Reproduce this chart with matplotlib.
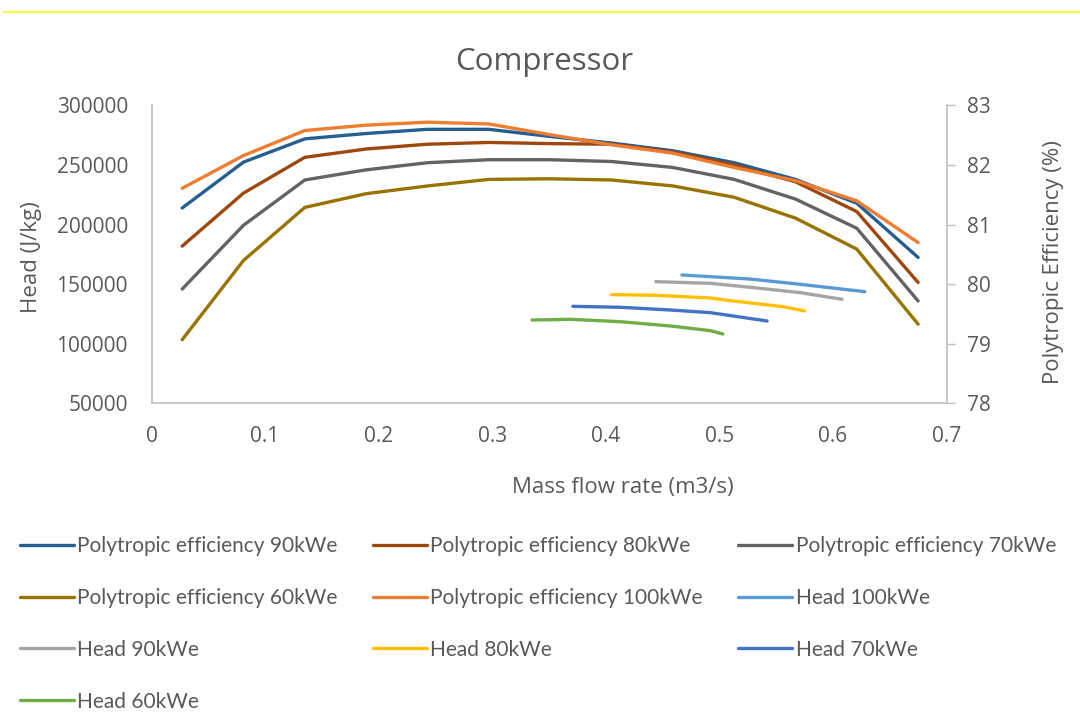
import matplotlib
matplotlib.use("Agg")
import matplotlib.pyplot as plt
from matplotlib.lines import Line2D

plt.rcParams['font.family'] = ['Open Sans', 'DejaVu Sans']

# mass flow rate points shared by the efficiency curves (m3/s)
flow = [0.027, 0.081, 0.135, 0.189, 0.243, 0.297, 0.351,
        0.405, 0.459, 0.513, 0.567, 0.621, 0.675]

# polytropic efficiency (%)
eff_90 = [81.28, 82.05, 82.44, 82.53, 82.60, 82.60, 82.48,
          82.37, 82.24, 82.04, 81.76, 81.36, 80.45]
eff_80 = [80.64, 81.53, 82.13, 82.27, 82.35, 82.38, 82.36,
          82.35, 82.22, 82.00, 81.72, 81.22, 80.03]
eff_70 = [79.92, 80.99, 81.75, 81.92, 82.04, 82.09, 82.09,
          82.06, 81.96, 81.76, 81.43, 80.94, 79.72]
eff_60 = [79.07, 80.40, 81.29, 81.52, 81.65, 81.76, 81.77,
          81.75, 81.65, 81.46, 81.11, 80.59, 79.33]
eff_100 = [81.61, 82.16, 82.58, 82.67, 82.72, 82.69, 82.51,
           82.34, 82.20, 81.96, 81.74, 81.40, 80.70]

# head curves (J/kg)
head_100_x = [0.467, 0.527, 0.571, 0.628]
head_100 = [157800, 154400, 150000, 143800]
head_90_x = [0.444, 0.492, 0.527, 0.571, 0.608]
head_90 = [152200, 150800, 147500, 143000, 137400]
head_80_x = [0.405, 0.442, 0.492, 0.512, 0.556, 0.575]
head_80 = [141300, 140800, 138500, 136000, 131200, 127600]
head_70_x = [0.371, 0.413, 0.457, 0.492, 0.542]
head_70 = [131500, 130700, 128400, 126200, 119200]
head_60_x = [0.335, 0.369, 0.413, 0.457, 0.492, 0.503]
head_60 = [120000, 120600, 118600, 115000, 111100, 108300]

TXT = '#595959'
SPINE = '#BFBFBF'

fig = plt.figure(figsize=(10.8, 7.21), dpi=100)
ax = fig.add_axes([0.1403, 0.4404, 0.7361, 0.4133])
ax2 = ax.twinx()

lw = 2.4
e90, = ax2.plot(flow, eff_90, color='#255E91', lw=lw, solid_capstyle='round',
                label='Polytropic efficiency 90kWe')
e80, = ax2.plot(flow, eff_80, color='#9E480E', lw=lw, solid_capstyle='round',
                label='Polytropic efficiency 80kWe')
e70, = ax2.plot(flow, eff_70, color='#636363', lw=lw, solid_capstyle='round',
                label='Polytropic efficiency 70kWe')
e60, = ax2.plot(flow, eff_60, color='#997300', lw=lw, solid_capstyle='round',
                label='Polytropic efficiency 60kWe')
e100, = ax2.plot(flow, eff_100, color='#ED7D31', lw=lw, solid_capstyle='round',
                 label='Polytropic efficiency 100kWe')

h100, = ax.plot(head_100_x, head_100, color='#5B9BD5', lw=lw,
                solid_capstyle='round', label='Head 100kWe')
h90, = ax.plot(head_90_x, head_90, color='#A5A5A5', lw=lw,
               solid_capstyle='round', label='Head 90kWe')
h80, = ax.plot(head_80_x, head_80, color='#FFC000', lw=lw,
               solid_capstyle='round', label='Head 80kWe')
h70, = ax.plot(head_70_x, head_70, color='#4472C4', lw=lw,
               solid_capstyle='round', label='Head 70kWe')
h60, = ax.plot(head_60_x, head_60, color='#70AD47', lw=lw,
               solid_capstyle='round', label='Head 60kWe')

ax.set_xlim(0, 0.7)
ax.set_ylim(50000, 300000)
ax2.set_ylim(78, 83)
ax.set_xticks([0, 0.1, 0.2, 0.3, 0.4, 0.5, 0.6, 0.7])
ax.set_xticklabels(['0', '0.1', '0.2', '0.3', '0.4', '0.5', '0.6', '0.7'])
ax.set_yticks(range(50000, 300001, 50000))
ax2.set_yticks(range(78, 84))

fs = 15
ax.tick_params(axis='x', length=0, pad=16, labelsize=fs, colors=TXT)
ax.tick_params(axis='y', length=0, pad=17, labelsize=fs, colors=TXT)
ax2.tick_params(axis='y', length=6, width=1, color=SPINE, pad=9,
                labelsize=fs, labelcolor=TXT, direction='out')

for a in (ax, ax2):
    a.spines['top'].set_visible(False)
    for s in ('left', 'right', 'bottom'):
        a.spines[s].set_color(SPINE)
        a.spines[s].set_linewidth(1.2)
ax.spines['right'].set_visible(False)
ax2.spines['left'].set_visible(False)
ax2.spines['bottom'].set_visible(False)

fig.text(0.504, 1 - 62 / 721, 'Compressor', ha='center', va='center',
         fontsize=22.5, color=TXT)
fig.text(32 / 1080, 1 - 257 / 721, 'Head (J/kg)', rotation=90,
         ha='center', va='center', fontsize=16, color=TXT)
fig.text(1053 / 1080, 1 - 262 / 721, 'Polytropic Efficiency (%)', rotation=90,
         ha='center', va='center', fontsize=16, color=TXT)
fig.text(623 / 1080, 1 - 488 / 721, 'Mass flow rate (m3/s)',
         ha='center', va='center', fontsize=16, color=TXT)

# legend entries laid out row by row in three columns
order = [e90, e60, h90, h60, e80, e100, h80, e70, h100, h70]
leg = fig.legend(handles=order, labels=[h.get_label() for h in order],
                 loc='upper left', bbox_to_anchor=(0.0185, 1 - 536 / 721),
                 ncol=3, frameon=False, handlelength=2.6,
                 prop={'family': ['Lato', 'DejaVu Sans'], 'size': 15},
                 handletextpad=0.15, columnspacing=1.7, labelspacing=1.53,
                 borderpad=0, borderaxespad=0)
for t in leg.get_texts():
    t.set_color(TXT)

# thin yellow rule along the top edge
fig.add_artist(Line2D([4 / 1080, 1], [1 - 12 / 721, 1 - 12 / 721],
                      color='#FFFF00', lw=1.2, transform=fig.transFigure))

fig.savefig('out.png', dpi=100)
